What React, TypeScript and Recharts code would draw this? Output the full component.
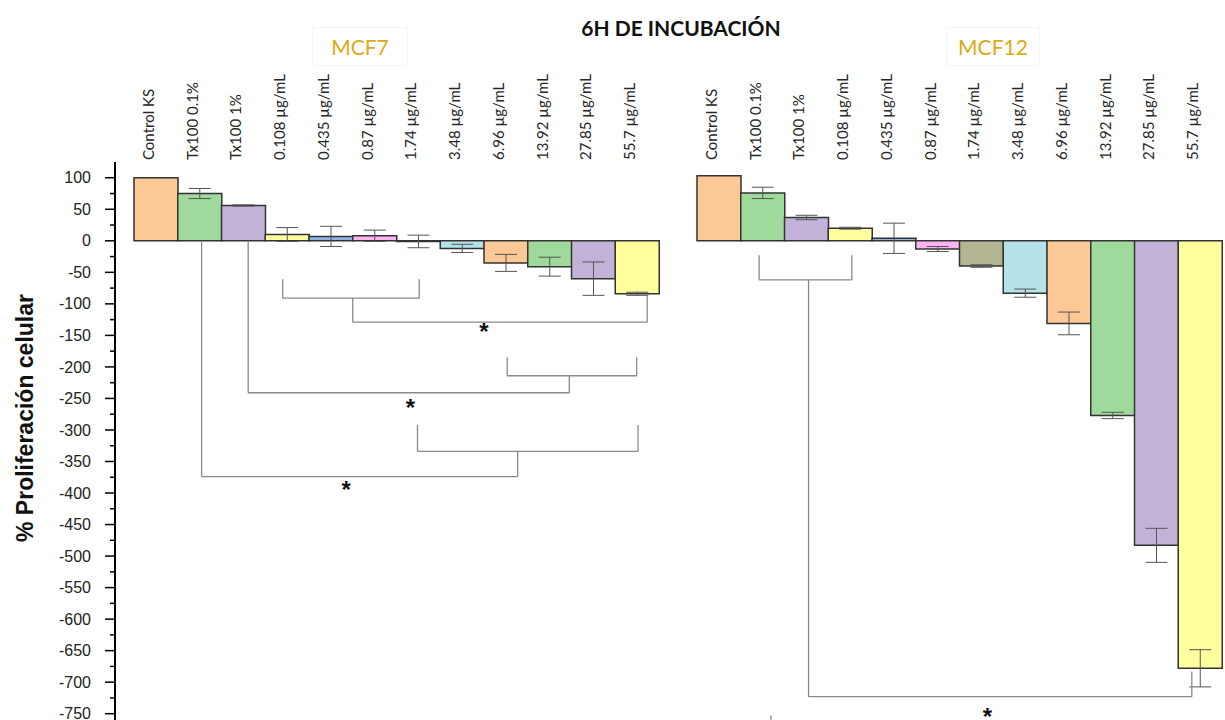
import { BarChart, Bar, XAxis, YAxis, ErrorBar, Cell, ReferenceLine, ReferenceDot } from 'recharts';

// categorias comunes a los dos paneles
const categories = [
  'Control KS', 'Tx100 0.1%', 'Tx100 1%', '0.108 µg/mL', '0.435 µg/mL', '0.87 µg/mL',
  '1.74 µg/mL', '3.48 µg/mL', '6.96 µg/mL', '13.92 µg/mL', '27.85 µg/mL', '55.7 µg/mL',
];

// % proliferacion celular, 6h
const mcf7Values = [100, 75, 56, 10, 7, 8, -1, -12, -35, -41, -60, -84];
const mcf7Errors = [null, 8, 1, 11, 16, 9, 10, 6.5, 13.5, 15, 26.5, 2.5];
const mcf12Values = [103, 76, 37, 20, 4, -13, -40, -83, -131, -277, -483, -678];
const mcf12Errors = [null, 9, 3.5, 1.5, 24, 4, 2, 6.5, 18, 5, 27, 29.5];

const barColors = [
  '#fcc996', '#9fd99c', '#c3b2d7', '#ffff9e', '#8fb4e3', '#ffb3f3',
  '#b3b592', '#b6e3ea', '#fcc996', '#9fd99c', '#c3b2d7', '#ffff9e',
];

const yTicks = [
  100, 75, 50, 25, 0, -25, -50, -75, -100, -125, -150, -175, -200, -225, -250, -275, -300,
  -325, -350, -375, -400, -425, -450, -475, -500, -525, -550, -575, -600, -625, -650, -675,
  -700, -725, -750,
];

// llaves de significancia: [x1, y1, x2, y2] en unidades de categoria (0..12) y de %
const mcf7Brackets = [
  [3.4, -61, 3.4, -91], [3.4, -91, 6.52, -91], [6.52, -61, 6.52, -91],
  [5.0, -91, 5.0, -129], [5.0, -129, 11.73, -129], [11.73, -87, 11.73, -129],
  [8.53, -185, 8.53, -214], [8.53, -214, 11.49, -214], [11.49, -185, 11.49, -214],
  [9.95, -214, 9.95, -241], [2.61, -241, 9.95, -241], [2.61, 0, 2.61, -241],
  [6.48, -292, 6.48, -334], [6.48, -334, 11.52, -334], [11.52, -292, 11.52, -334],
  [8.77, -334, 8.77, -374], [1.545, -374, 8.77, -374], [1.545, 0, 1.545, -374],
];
const mcf7Stars = [[8.0, -137], [6.32, -257], [4.85, -388]];

const mcf12Brackets = [
  [1.42, -23, 1.42, -62], [1.42, -62, 3.54, -62], [3.54, -23, 3.54, -62],
  [2.55, -62, 2.55, -723], [2.55, -723, 11.31, -723], [11.31, -683, 11.31, -723],
  [1.69, -753, 1.69, -760],
];
const mcf12Stars = [[6.64, -748]];

const Y_DOMAIN: [number, number] = [-760, 125];

function CategoryTick({ x, y, payload }: any) {
  const tx = x - 2;
  const ty = y - 2;
  return (
    <text x={tx} y={ty} transform={`rotate(-90, ${tx}, ${ty})`} textAnchor="start"
      fontSize={15} fontFamily="Lato" fill="#262626">
      {payload.value}
    </text>
  );
}

function YTick({ x, y, payload }: any) {
  const major = payload.value % 50 === 0;
  return (
    <g>
      <line x1={x - (major ? 10 : 5)} x2={x} y1={y} y2={y} stroke="#000" strokeWidth={1.5} />
      {major && (
        <text x={x - 24} y={y} dy="0.35em" textAnchor="end" fontSize={16}
          fontFamily="Liberation Sans, Arial" fill="#222">
          {payload.value}
        </text>
      )}
    </g>
  );
}

const Star = (props: any) => (
  <text x={props.cx} y={props.cy + 13} textAnchor="middle" fontSize={24} fontWeight="bold"
    fontFamily="Liberation Sans, Arial" fill="#111">*</text>
);

type PanelProps = {
  values: number[];
  errors: (number | null)[];
  brackets: number[][];
  stars: number[][];
  showAxis: boolean;
  width: number;
  left: number;
  marginLeft: number;
  marginRight: number;
  padLeft: number;
};

function Panel({ values, errors, brackets, stars, showAxis, width, left, marginLeft, marginRight, padLeft }: PanelProps) {
  // pos = centro de cada categoria, para el eje numerico oculto de las llaves
  const data = categories.map((name, i) => ({ name, pos: i + 0.5, value: values[i], err: errors[i] }));
  return (
    <div style={{ position: 'absolute', left, top: 0 }}>
      <BarChart width={width} height={720} data={data}
        margin={{ top: 0, right: marginRight, left: marginLeft, bottom: 0 }}
        barCategoryGap={0} barGap={0}>
        <XAxis dataKey="name" orientation="top" height={162} interval={0}
          axisLine={false} tickLine={false} tickSize={0} tickMargin={0}
          padding={{ left: padLeft, right: 0 }} tick={<CategoryTick />} />
        <XAxis xAxisId="n" dataKey="pos" type="number" domain={[0, 12]} allowDataOverflow hide
          padding={{ left: padLeft, right: 0 }} />
        <YAxis domain={Y_DOMAIN} allowDataOverflow ticks={yTicks} interval={0}
          hide={!showAxis} width={115} tickSize={0} tickMargin={0} tickLine={false}
          axisLine={{ stroke: '#000', strokeWidth: 2 }} tick={<YTick />} />
        <Bar dataKey="value" isAnimationActive={false} stroke="#333" strokeWidth={1.5}>
          {data.map((d, i) => <Cell key={d.name} fill={barColors[i]} />)}
          <ErrorBar dataKey="err" width={11} stroke="#555" strokeWidth={1} direction="y" />
        </Bar>
        {brackets.map((b, i) => (
          <ReferenceLine key={'b' + i} xAxisId="n" stroke="#8a8a8a" strokeWidth={1.3}
            segment={[{ x: b[0], y: b[1] }, { x: b[2], y: b[3] }]} />
        ))}
        {stars.map((s, i) => (
          <ReferenceDot key={'s' + i} xAxisId="n" x={s[0]} y={s[1]} r={0} shape={<Star />} />
        ))}
      </BarChart>
    </div>
  );
}

export default function App() {
  return (
    <div style={{ position: 'absolute', left: 0, top: 0, width: 1225, height: 720, background: '#fff', overflow: 'hidden' }}>
      <Panel values={mcf7Values} errors={mcf7Errors} brackets={mcf7Brackets} stars={mcf7Stars}
        showAxis width={680} left={0} marginLeft={0} marginRight={21} padLeft={19} />
      <Panel values={mcf12Values} errors={mcf12Errors} brackets={mcf12Brackets} stars={mcf12Stars}
        showAxis={false} width={545} left={680} marginLeft={17} marginRight={3} padLeft={0} />

      <div style={{ position: 'absolute', left: 481, top: 15, width: 400, textAlign: 'center',
        fontFamily: 'Lato', fontWeight: 'bold', fontSize: 21, color: '#111', lineHeight: '26px' }}>
        6H DE INCUBACIÓN
      </div>
      <div style={{ position: 'absolute', left: 312, top: 27, width: 96, height: 39, border: '1px solid #f5f5f5',
        boxSizing: 'border-box', textAlign: 'center', fontFamily: 'Lato', fontSize: 21, color: '#dcaa14', lineHeight: '37px' }}>
        MCF7
      </div>
      <div style={{ position: 'absolute', left: 946, top: 27, width: 94, height: 39, border: '1px solid #f5f5f5',
        boxSizing: 'border-box', textAlign: 'center', fontFamily: 'Lato', fontSize: 21, color: '#dcaa14', lineHeight: '37px' }}>
        MCF12
      </div>
      <div style={{ position: 'absolute', left: 25 - 150, top: 418 - 14, width: 300, textAlign: 'center',
        transform: 'rotate(-90deg)', fontFamily: 'Liberation Sans, Arial', fontWeight: 'bold', fontSize: 23,
        color: '#111', lineHeight: '28px' }}>
        % Proliferación celular
      </div>
    </div>
  );
}
